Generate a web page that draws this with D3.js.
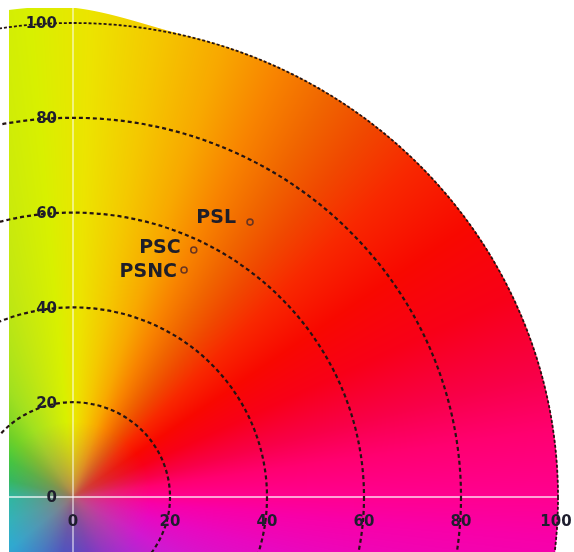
<!DOCTYPE html>
<html>
<head>
<meta charset="utf-8">
<script src="https://cdn.jsdelivr.net/npm/d3@7"></script>
<style>
  html, body { margin: 0; padding: 0; background: #ffffff; }
  #wrap { position: relative; width: 574px; height: 552px; overflow: hidden; }
  #wrap canvas, #wrap svg { position: absolute; left: 0; top: 0; }
</style>
</head>
<body>
<div id="wrap"></div>
<script>
// ---- data ----
const ringValues = [20, 40, 60, 80, 100];
const xTickLabels = [0, 20, 40, 60, 80, 100];
const yTickLabels = [0, 20, 40, 60, 80, 100];
const sampleNames = ["PSL", "PSC", "PSNC"];
const sampleA = [36.5, 24.9, 22.9];
const sampleB = [58.0, 52.1, 47.9];
// hue wheel (angle in degrees of a*/b*) and colours
const hueAngles = [-180, -160, -140, -120, -100, -90, -75, -60, -45, -30, -15, -5, 0, 8, 15, 25, 35, 45, 52, 58, 65, 72, 80, 88, 95, 105, 120, 135, 150, 165, 180];
const hueColors = ["#20c0a8", "#28b8c0", "#30a8d0", "#3880d0", "#4050d0", "#4848d0", "#6838d0", "#9030d0", "#b028d0", "#d018d0", "#e808c0", "#f800a8", "#ff0090", "#ff0070", "#f80048", "#f80018", "#f80800", "#f82800", "#f04800", "#f06400", "#f88400", "#f8a800", "#f4c800", "#ece400", "#d8f000", "#c4e810", "#a0e020", "#70d028", "#40c840", "#28c060", "#20c0a8"];

// ---- layout ----
const W = 574, H = 552;
const x = d3.scaleLinear().domain([0, 100]).range([73, 558]);
const y = d3.scaleLinear().domain([0, 100]).range([497, 23]);
const hue = d3.scaleLinear().domain(hueAngles).range(hueColors).interpolate(d3.interpolateRgb);
const centerColor = d3.rgb("#b06860");

const wrap = d3.select("#wrap");

// colour field on a canvas
const canvas = wrap.append("canvas").attr("width", W).attr("height", H).node();
const ctx = canvas.getContext("2d");
const img = ctx.createImageData(W, H);
const fieldLeft = 9, fieldTop = 8;
const smooth = t => { t = Math.max(0, Math.min(1, t)); return t * t * (3 - 2 * t); };
for (let py = 0; py < H; py++) {
  const b = y.invert(py + 0.5);
  for (let px = 0; px < W; px++) {
    const i = (py * W + px) * 4;
    if (px < fieldLeft || py < fieldTop) { img.data[i + 3] = 0; continue; }
    const a = x.invert(px + 0.5);
    const r = Math.hypot(a, b);
    const ext = 3.5 * smooth((24 - a) / 30) * smooth((b - 70) / 20);
    const limit = 100.2 + ext;
    const edge = Math.max(0, Math.min(1, (limit - r) * 4.8));
    if (edge <= 0) { img.data[i + 3] = 0; continue; }
    const ang = Math.atan2(b, a) * 180 / Math.PI;
    const c = d3.rgb(hue(ang));
    let t = Math.min(1, r / 16);
    t = Math.pow(t, 0.55);
    img.data[i] = centerColor.r + (c.r - centerColor.r) * t;
    img.data[i + 1] = centerColor.g + (c.g - centerColor.g) * t;
    img.data[i + 2] = centerColor.b + (c.b - centerColor.b) * t;
    img.data[i + 3] = 255 * edge;
  }
}
ctx.putImageData(img, 0, 0);

const svg = wrap.append("svg").attr("width", W).attr("height", H);

// white axis lines
svg.append("line")
  .attr("x1", fieldLeft).attr("x2", W).attr("y1", y(0)).attr("y2", y(0))
  .attr("stroke", "#fff").attr("stroke-opacity", 0.85).attr("stroke-width", 1.6);
svg.append("line")
  .attr("x1", x(0)).attr("x2", x(0)).attr("y1", fieldTop).attr("y2", H)
  .attr("stroke", "#fff").attr("stroke-opacity", 0.7).attr("stroke-width", 1.4);

// dashed rings
svg.append("g").selectAll("ellipse").data(ringValues).join("ellipse")
  .attr("cx", x(0)).attr("cy", y(0))
  .attr("rx", d => x(d) - x(0)).attr("ry", d => y(0) - y(d))
  .attr("fill", "none")
  .attr("stroke", "#241414")
  .attr("stroke-width", d => d === 100 ? 1.8 : 2.2)
  .attr("stroke-dasharray", d => d === 100 ? "3,2" : "4,3");

// tick labels
const labelFont = "'DejaVu Sans', Verdana, sans-serif";
svg.append("g").selectAll("text").data(yTickLabels).join("text")
  .attr("x", 57).attr("y", d => y(d))
  .attr("dy", "0.36em")
  .attr("text-anchor", "end")
  .attr("font-family", labelFont).attr("font-size", 15).attr("font-weight", "bold")
  .attr("fill", "#1e1e2e")
  .text(d => d);
svg.append("g").selectAll("text").data(xTickLabels).join("text")
  .attr("x", d => x(d) - (d === 100 ? 2 : 0)).attr("y", 521)
  .attr("dy", "0.36em")
  .attr("text-anchor", "middle")
  .attr("font-family", labelFont).attr("font-size", 15).attr("font-weight", "bold")
  .attr("fill", "#1e1e2e")
  .text(d => d);

// sample points
const samples = sampleNames.map((n, i) => ({ name: n, a: sampleA[i], b: sampleB[i] }));
const labelDx = [14, 13, 7];
const labelDy = [1, 3, 7];
const g = svg.append("g");
g.selectAll("circle").data(samples).join("circle")
  .attr("cx", d => x(d.a)).attr("cy", d => y(d.b)).attr("r", 3)
  .attr("fill", "none").attr("stroke", "#6a3520").attr("stroke-width", 1.6);
g.selectAll("text").data(samples).join("text")
  .attr("x", (d, i) => x(d.a) - labelDx[i])
  .attr("y", (d, i) => y(d.b) + labelDy[i])
  .attr("text-anchor", "end")
  .attr("font-family", labelFont).attr("font-size", 19).attr("font-weight", "bold")
  .attr("fill", "#1e1e2a")
  .text(d => d.name);
</script>
</body>
</html>
